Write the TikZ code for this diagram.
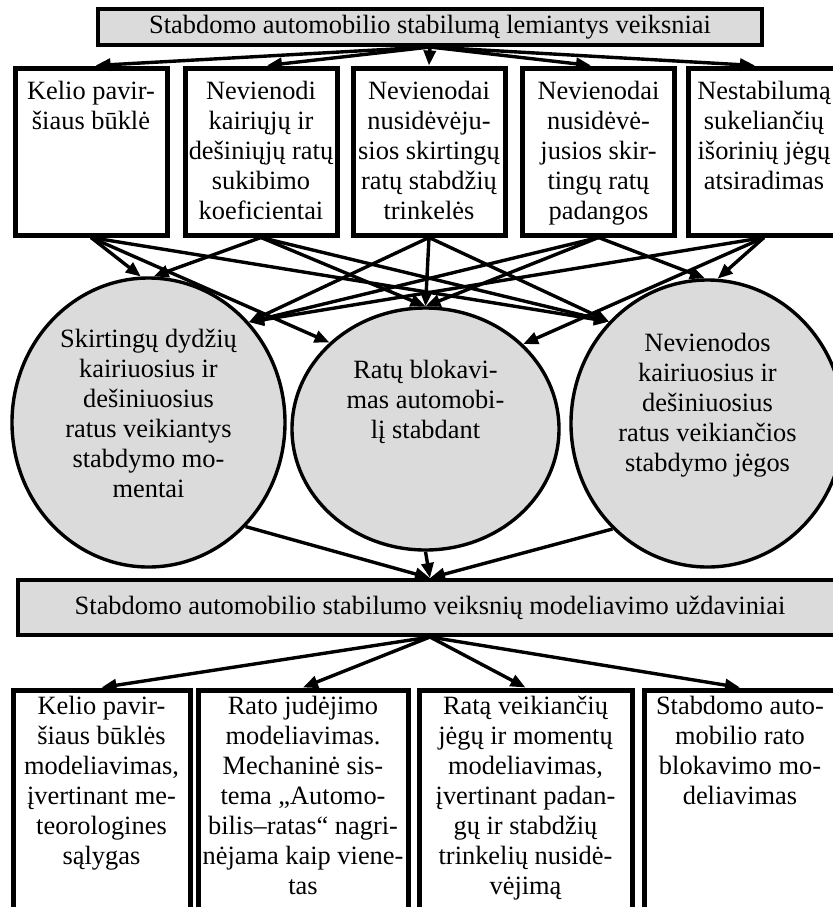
\documentclass[tikz,border=0pt]{standalone}
\usepackage{fontspec}
\setmainfont{Liberation Serif}
\usetikzlibrary{shapes.geometric,arrows.meta}

\definecolor{boxgray}{gray}{0.86}
\newcommand{\celltext}[2]{\makebox[0pt]{\raisebox{#1}[0pt][0pt]{\begin{tabular}[t]{@{}c@{}}#2\end{tabular}}}}

\begin{document}
\begin{tikzpicture}[x=0.5pt, y=-0.5pt, font=\fontsize{13.2}{15}\selectfont,
    head/.style={draw, line width=2pt, fill=boxgray, inner sep=0pt},
    cause/.style={draw, line width=2.5pt, inner sep=0pt, minimum width=76pt, minimum height=83.5pt},
    effect/.style={ellipse, draw, line width=1.7pt, fill=boxgray, inner sep=0pt},
    task/.style={draw, line width=2.5pt, inner sep=0pt, minimum height=111pt},
    link/.style={line width=1.7pt, -{Triangle[length=7.5pt,width=6pt]}}]
    \useasboundingbox (0,0) rectangle (832,907);

    % Define boxes
    \node[head, minimum width=332pt, minimum height=18pt] (top) at (430,27) {Stabdomo automobilio stabilumą lemiantys veiksniai};

    \node[cause] (b1) at (91,151.5) {\celltext{26.25pt}{Kelio pavir-\\šiaus būklė}};
    \node[cause] (b2) at (261,151.5) {\celltext{26.25pt}{Nevienodi\\kairiųjų ir\\dešiniųjų ratų\\sukibimo\\koeficientai}};
    \node[cause] (b3) at (429,151.5) {\celltext{26.25pt}{Nevienodai\\nusidėvėju-\\sios skirtingų\\ratų stabdžių\\trinkelės}};
    \node[cause] (b4) at (598.5,151.5) {\celltext{26.25pt}{Nevienodai\\nusidėvė-\\jusios skir-\\tingų ratų\\padangos}};
    \node[cause] (b5) at (764,151.5) {\celltext{26.25pt}{Nestabilumą\\sukeliančių\\išorinių jėgų\\atsiradimas}};

    \node[effect, minimum width=136.5pt, minimum height=144.5pt] (e1) at (148.5,422.5) {\celltext{37.75pt}{Skirtingų dydžių\\kairiuosius ir\\dešiniuosius\\ratus veikiantys\\stabdymo mo-\\mentai}};
    \node[effect, minimum width=133.5pt, minimum height=121pt] (e2) at (425.5,429) {\celltext{25.5pt}{Ratų blokavi-\\mas automobi-\\lį stabdant}};
    \node[effect, minimum width=136.5pt, minimum height=143.5pt] (e3) at (707.5,423.5) {\celltext{36.25pt}{Nevienodos\\kairiuosius ir\\dešiniuosius\\ratus veikiančios\\stabdymo jėgos}};

    \node[head, minimum width=412pt, minimum height=27.5pt] (mid) at (430,607.5) {Stabdomo automobilio stabilumo veiksnių modeliavimo uždaviniai};

    \node[task, minimum width=88.5pt] (c1) at (101.5,801) {\celltext{43.5pt}{Kelio pavir-\\šiaus būklės\\modeliavimas,\\įvertinant me-\\teorologines\\sąlygas}};
    \node[task, minimum width=105pt] (c2) at (303,801) {\celltext{43.5pt}{Rato judėjimo\\modeliavimas.\\Mechaninė sis-\\tema „Automo-\\bilis–ratas“ nagri-\\nėjama kaip viene-\\tas}};
    \node[task, minimum width=106.5pt] (c3) at (525.5,801) {\celltext{43.5pt}{Ratą veikiančių\\jėgų ir momentų\\modeliavimas,\\įvertinant padan-\\gų ir stabdžių\\trinkelių nusidė-\\vėjimą}};
    \node[task, minimum width=96pt] (c4) at (740,801) {\celltext{43.5pt}{Stabdomo auto-\\mobilio rato\\blokavimo mo-\\deliavimas}};

    % Arrows
    \foreach \dst in {b1.87, b2.86, b3.north, b4.95, b5.96} {
        \draw[link] (top.south) -- (\dst);
    }

    \foreach \src/\dst in {b1/e1.93, b1/e2.138, b1/e3.134, b2/e1.88, b2/e2.north, b2/e3.134,
                           b3/e1.45, b3/e2.north, b3/e3.134, b4/e1.45, b4/e2.north, b4/e3.91,
                           b5/e1.45, b5/e2.41, b5/e3.86} {
        \draw[link] (\src.south) -- (\dst);
    }

    \draw[link] (e1.-47) -- (mid.north);
    \draw[link] (e2.south) -- (mid.north);
    \draw[link] (e3.228) -- (mid.north);

    \foreach \dst in {c1, c2, c3, c4} {
        \draw[link] (mid.south) -- (\dst.north);
    }

\end{tikzpicture}
\end{document}
